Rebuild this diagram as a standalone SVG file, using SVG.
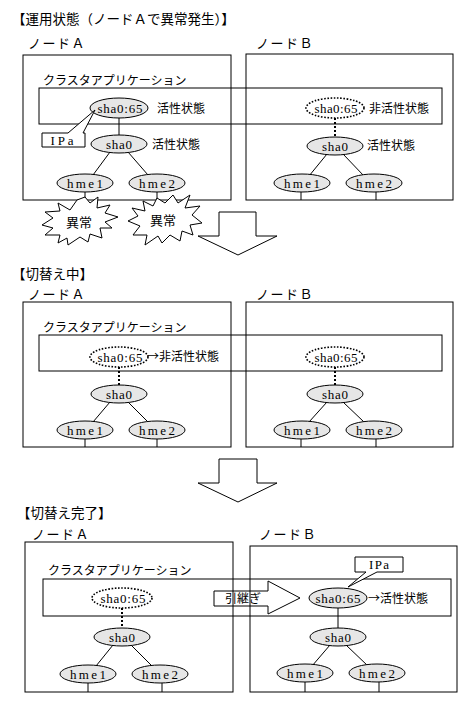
<svg xmlns="http://www.w3.org/2000/svg" width="467" height="702" viewBox="0 0 467 702">
<style>
.bg{fill:#fff}
.box{fill:none;stroke:#000;stroke-width:1}
.jp{font-family:"Noto Sans CJK JP","Noto Sans CJK SC",sans-serif;font-size:12px;fill:#000}
.tt{font-size:13.5px}
.nd{font-size:13px;letter-spacing:1.5px}
.lt{font-family:"Liberation Serif","DejaVu Serif",serif;font-size:13px;fill:#000;text-anchor:middle}
.el{fill:#e6e6e6;stroke:#000;stroke-width:1}
.eld{fill:#fff;stroke:#000;stroke-width:1.6;stroke-dasharray:1.6 1.6}
.ln{stroke:#000;stroke-width:1;fill:none}
.lnd{stroke:#000;stroke-width:2;stroke-dasharray:2 2;fill:none}
.sh{fill:#fff;stroke:#000;stroke-width:1}
</style>
<rect class="bg" width="467" height="702"/>

<!-- Section 1 -->
<g id="section1">
<text class="jp tt" x="12" y="24">【運用状態（ノードＡで異常発生）】</text>
<g id="s1-nodeA">
<text class="jp nd" x="28" y="48">ノードＡ</text>
<rect class="box" x="23" y="55" width="208" height="145"/>
<text class="jp" x="43" y="85">クラスタアプリケーション</text>
</g>
<g id="s1-nodeB">
<text class="jp nd" x="256" y="48">ノードＢ</text>
<rect class="box" x="246" y="54" width="207" height="146"/>
</g>
<g id="s1-app"><rect class="box" x="39" y="88" width="403" height="36"/></g>
<g id="s1-connectors">
<line class="ln" x1="119" y1="118" x2="119" y2="135"/>
<line class="ln" x1="110" y1="152" x2="93" y2="175"/>
<line class="ln" x1="128" y1="152" x2="148" y2="175"/>
<line class="ln" x1="85" y1="192" x2="85" y2="200"/>
<line class="ln" x1="157" y1="192" x2="157" y2="200"/>
<line class="lnd" x1="335" y1="118" x2="335" y2="137"/>
<line class="ln" x1="327" y1="154" x2="309" y2="176"/>
<line class="ln" x1="343" y1="154" x2="364" y2="176"/>
<line class="ln" x1="301" y1="192" x2="301" y2="200"/>
<line class="ln" x1="376" y1="192" x2="376" y2="200"/>
</g>
<g id="s1-A-sha065"><ellipse class="el" cx="119" cy="108" rx="29" ry="10"/><text class="lt" x="120" y="112.5" textLength="45" lengthAdjust="spacing">sha0:65</text><text class="jp" x="157" y="113">活性状態</text></g>
<g id="s1-A-ipa"><path class="sh" d="M42,133 L68,133 L95,110 L83,133 L85,133 L85,147 L42,147 Z"/><text class="lt" x="62" y="144.5" textLength="23" lengthAdjust="spacing">IPa</text></g>
<g id="s1-A-sha0"><ellipse class="el" cx="119" cy="144" rx="28" ry="9"/><text class="lt" x="119" y="148.5" textLength="26" lengthAdjust="spacing">sha0</text><text class="jp" x="152" y="149">活性状態</text></g>
<g id="s1-A-hme1"><ellipse class="el" cx="85" cy="183" rx="28" ry="9"/><text class="lt" x="85" y="187.5" textLength="36" lengthAdjust="spacing">hme1</text></g>
<g id="s1-A-hme2"><ellipse class="el" cx="157" cy="183" rx="28" ry="9"/><text class="lt" x="157" y="187.5" textLength="36" lengthAdjust="spacing">hme2</text></g>
<g id="s1-B-sha065"><ellipse class="eld" cx="335" cy="108" rx="29" ry="10"/><text class="lt" x="336" y="112.5" textLength="43" lengthAdjust="spacing">sha0:65</text><text class="jp" x="369" y="113">非活性状態</text></g>
<g id="s1-B-sha0"><ellipse class="el" cx="335" cy="146" rx="28" ry="9"/><text class="lt" x="335" y="150.5" textLength="26" lengthAdjust="spacing">sha0</text><text class="jp" x="367" y="150">活性状態</text></g>
<g id="s1-B-hme1"><ellipse class="el" cx="302" cy="183" rx="28" ry="9"/><text class="lt" x="302" y="187.5" textLength="36" lengthAdjust="spacing">hme1</text></g>
<g id="s1-B-hme2"><ellipse class="el" cx="374" cy="183" rx="28" ry="9"/><text class="lt" x="374" y="187.5" textLength="36" lengthAdjust="spacing">hme2</text></g>
<g id="s1-err1"><polygon class="sh" points="85,197 90,203 98,197 97,208 110,205 105,213 118,217 105,222 112,228 100,228 102,238 90,234 88,242 80,237 68,245 67,238 58,243 60,235 45,235 53,228 42,225 53,218 45,212 60,211 58,203 70,210 77,200"/><text class="jp" x="66" y="227" style="font-size:13px">異常</text></g>
<g id="s1-err2"><polygon class="sh" points="157,198 165,203 173,195 178,203 190,195 185,208 200,206 192,215 202,223 190,225 193,235 182,231 180,241 170,235 162,243 158,236 145,245 147,235 133,235 140,226 128,221 138,216 132,208 145,211 143,201 153,206"/><text class="jp" x="150" y="225" style="font-size:13px">異常</text></g>
<g id="arrow1"><polygon class="sh" points="219,212 256,212 256,236 277,236 238,255 198,236 219,236"/></g>
</g>

<!-- Section 2 -->
<g id="section2">
<text class="jp tt" x="12" y="279">【切替え中】</text>
<g id="s2-nodeA">
<text class="jp nd" x="28" y="299">ノードＡ</text>
<rect class="box" x="23" y="302" width="208" height="145"/>
<text class="jp" x="43" y="332">クラスタアプリケーション</text>
</g>
<g id="s2-nodeB">
<text class="jp nd" x="256" y="299">ノードＢ</text>
<rect class="box" x="246" y="302" width="207" height="145"/>
</g>
<g id="s2-app"><rect class="box" x="39" y="335" width="403" height="36"/></g>
<g id="s2-connectors">
<line class="lnd" x1="119" y1="367" x2="119" y2="385"/>
<line class="ln" x1="110" y1="402" x2="93" y2="422"/>
<line class="ln" x1="128" y1="402" x2="148" y2="422"/>
<line class="ln" x1="85" y1="439" x2="85" y2="447"/>
<line class="ln" x1="157" y1="439" x2="157" y2="447"/>
<line class="lnd" x1="335" y1="367" x2="335" y2="385"/>
<line class="ln" x1="327" y1="402" x2="309" y2="422"/>
<line class="ln" x1="343" y1="402" x2="364" y2="422"/>
<line class="ln" x1="301" y1="439" x2="301" y2="447"/>
<line class="ln" x1="376" y1="439" x2="376" y2="447"/>
</g>
<g id="s2-A-sha065"><ellipse class="eld" cx="119" cy="357" rx="29" ry="10"/><text class="lt" x="120" y="361.5" textLength="45" lengthAdjust="spacing">sha0:65</text><text class="jp" x="147" y="361">→非活性状態</text></g>
<g id="s2-A-sha0"><ellipse class="el" cx="119" cy="394" rx="28" ry="9"/><text class="lt" x="119" y="398.5" textLength="26" lengthAdjust="spacing">sha0</text></g>
<g id="s2-A-hme1"><ellipse class="el" cx="85" cy="430" rx="28" ry="9"/><text class="lt" x="85" y="434.5" textLength="36" lengthAdjust="spacing">hme1</text></g>
<g id="s2-A-hme2"><ellipse class="el" cx="157" cy="430" rx="28" ry="9"/><text class="lt" x="157" y="434.5" textLength="36" lengthAdjust="spacing">hme2</text></g>
<g id="s2-B-sha065"><ellipse class="eld" cx="335" cy="357" rx="29" ry="10"/><text class="lt" x="336" y="361.5" textLength="43" lengthAdjust="spacing">sha0:65</text></g>
<g id="s2-B-sha0"><ellipse class="el" cx="335" cy="394" rx="28" ry="9"/><text class="lt" x="335" y="398.5" textLength="26" lengthAdjust="spacing">sha0</text></g>
<g id="s2-B-hme1"><ellipse class="el" cx="302" cy="430" rx="28" ry="9"/><text class="lt" x="302" y="434.5" textLength="36" lengthAdjust="spacing">hme1</text></g>
<g id="s2-B-hme2"><ellipse class="el" cx="374" cy="430" rx="28" ry="9"/><text class="lt" x="374" y="434.5" textLength="36" lengthAdjust="spacing">hme2</text></g>
<g id="arrow2"><polygon class="sh" points="219,459 257,459 257,483 277,483 238,502 198,483 219,483"/></g>
</g>

<!-- Section 3 -->
<g id="section3">
<text class="jp tt" x="17" y="518">【切替え完了】</text>
<g id="s3-nodeA">
<text class="jp nd" x="32" y="539">ノードＡ</text>
<rect class="box" x="25" y="542" width="208" height="150"/>
<text class="jp" x="48" y="575">クラスタアプリケーション</text>
</g>
<g id="s3-nodeB">
<text class="jp nd" x="259" y="539">ノードＢ</text>
<rect class="box" x="250" y="546" width="207" height="146"/>
</g>
<g id="s3-app"><rect class="box" x="43" y="579" width="408" height="37"/></g>
<g id="s3-connectors">
<line class="lnd" x1="122" y1="608" x2="122" y2="629"/>
<line class="ln" x1="113" y1="645" x2="96" y2="666"/>
<line class="ln" x1="131" y1="645" x2="152" y2="666"/>
<line class="ln" x1="88" y1="683" x2="88" y2="692"/>
<line class="ln" x1="162" y1="683" x2="162" y2="692"/>
<line class="ln" x1="338" y1="608" x2="338" y2="629"/>
<line class="ln" x1="330" y1="645" x2="312" y2="666"/>
<line class="ln" x1="346" y1="645" x2="368" y2="666"/>
<line class="ln" x1="305" y1="682" x2="305" y2="692"/>
<line class="ln" x1="379" y1="682" x2="379" y2="692"/>
</g>
<g id="s3-handover"><polygon class="box" points="214,591 268,591 268,581 300,598 268,614 268,606 214,606"/><text class="jp" x="225" y="603">引継ぎ</text></g>
<g id="s3-A-sha065"><ellipse class="eld" cx="122" cy="598" rx="30" ry="10"/><text class="lt" x="123" y="602.5" textLength="45" lengthAdjust="spacing">sha0:65</text></g>
<g id="s3-A-sha0"><ellipse class="el" cx="122" cy="637" rx="28" ry="9"/><text class="lt" x="122" y="641.5" textLength="26" lengthAdjust="spacing">sha0</text></g>
<g id="s3-A-hme1"><ellipse class="el" cx="88" cy="674" rx="28" ry="9"/><text class="lt" x="88" y="678.5" textLength="36" lengthAdjust="spacing">hme1</text></g>
<g id="s3-A-hme2"><ellipse class="el" cx="160" cy="674" rx="28" ry="9"/><text class="lt" x="160" y="678.5" textLength="36" lengthAdjust="spacing">hme2</text></g>
<g id="s3-B-sha065"><ellipse class="el" cx="338" cy="598" rx="29" ry="10"/><text class="lt" x="338" y="602.5" textLength="45" lengthAdjust="spacing">sha0:65</text><text class="jp" x="368" y="603">→活性状態</text></g>
<g id="s3-B-ipa"><path class="sh" d="M355,557 L403,557 L403,572 L377,572 L348,587 L366,572 L355,572 Z"/><text class="lt" x="379" y="568.5" textLength="20" lengthAdjust="spacing">IPa</text></g>
<g id="s3-B-sha0"><ellipse class="el" cx="338" cy="637" rx="28" ry="9"/><text class="lt" x="338" y="641.5" textLength="26" lengthAdjust="spacing">sha0</text></g>
<g id="s3-B-hme1"><ellipse class="el" cx="305" cy="673" rx="28" ry="9"/><text class="lt" x="305" y="677.5" textLength="36" lengthAdjust="spacing">hme1</text></g>
<g id="s3-B-hme2"><ellipse class="el" cx="377" cy="673" rx="28" ry="9"/><text class="lt" x="377" y="677.5" textLength="36" lengthAdjust="spacing">hme2</text></g>
</g>
</svg>
